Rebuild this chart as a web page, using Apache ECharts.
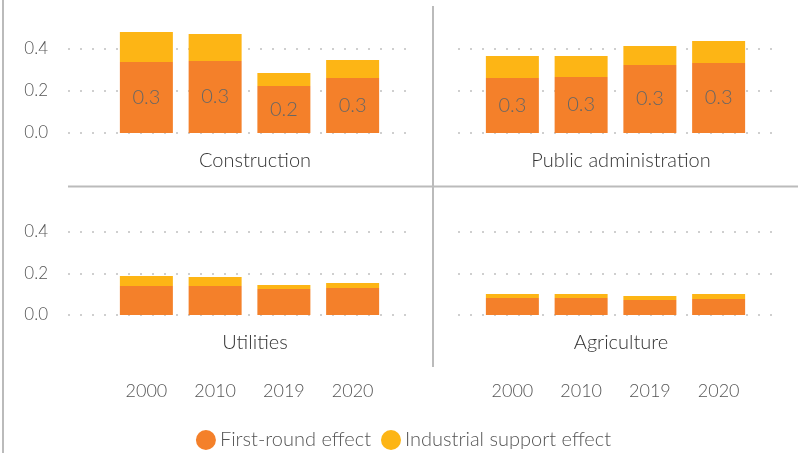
<!DOCTYPE html>
<html>
<head>
<meta charset="utf-8">
<script src="https://cdn.jsdelivr.net/npm/echarts@6/dist/echarts.min.js"></script>
<style>
  html, body { margin: 0; padding: 0; background: #fff; }
  #chart { width: 807px; height: 453px; }
</style>
</head>
<body>
<div id="chart"></div>
<script>
var years = ["2000", "2010", "2019", "2020"];
var panels = ["Construction", "Public administration", "Utilities", "Agriculture"];
var yTicks = [0, 0.2, 0.4];

var firstRound = {
    "Construction": [0.338, 0.343, 0.224, 0.262],
    "Public administration": [0.262, 0.267, 0.324, 0.333],
    "Utilities": [0.140, 0.140, 0.125, 0.130],
    "Agriculture": [0.082, 0.082, 0.072, 0.077]
};
var industrialSupport = {
    "Construction": [0.143, 0.128, 0.062, 0.086],
    "Public administration": [0.105, 0.100, 0.090, 0.105],
    "Utilities": [0.048, 0.043, 0.020, 0.024],
    "Agriculture": [0.019, 0.019, 0.020, 0.024]
};

var ORANGE = "#F4802A";
var YELLOW = "#FDB515";
var FONT = "Lato";

// layout of the 2x2 panels
var layout = [
    { bgLeft: 68, bgWidth: 339, barLeft: 112, top: 49, height: 84, yLabels: true, xLabels: false, titleX: 250, titleY: 146, labels: true },
    { bgLeft: 458, bgWidth: 314, barLeft: 478, top: 49, height: 84, yLabels: false, xLabels: false, titleX: 616, titleY: 146, labels: true },
    { bgLeft: 68, bgWidth: 339, barLeft: 112, top: 232, height: 83, yLabels: true, xLabels: true, titleX: 250, titleY: 328, labels: false },
    { bgLeft: 458, bgWidth: 314, barLeft: 478, top: 232, height: 83, yLabels: false, xLabels: true, titleX: 616, titleY: 328, labels: false }
];

var grids = [], xAxes = [], yAxes = [], series = [], titles = [];

panels.forEach(function (name, i) {
    var p = layout[i];
    var bg = grids.length;
    grids.push({ left: p.bgLeft, width: p.bgWidth, top: p.top, height: p.height });
    xAxes.push({ gridIndex: bg, type: "value", show: false });
    yAxes.push({
        gridIndex: bg, type: "value", min: yTicks[0], max: yTicks[yTicks.length - 1], interval: 0.2,
        axisLine: { show: false }, axisTick: { show: false },
        axisLabel: {
            show: p.yLabels, margin: 20, color: "#555", fontSize: 17, fontFamily: FONT, fontWeight: 300,
            formatter: function (v) { return v.toFixed(1); }
        },
        splitLine: { show: true, lineStyle: { color: "#cfcfcf", width: 2, type: [2, 10] } }
    });

    var g = grids.length;
    grids.push({ left: p.barLeft, width: 275, top: p.top, height: p.height });
    xAxes.push({
        gridIndex: g, type: "category", data: years,
        axisLine: { show: false }, axisTick: { show: false },
        axisLabel: { show: p.xLabels, margin: 67, color: "#555", fontSize: 18, fontFamily: FONT, fontWeight: 300 }
    });
    yAxes.push({ gridIndex: g, type: "value", min: 0, max: 0.4, show: false, splitLine: { show: false } });

    series.push({
        name: "First-round effect", type: "bar", stack: "s" + i, xAxisIndex: g, yAxisIndex: g,
        barWidth: 53, clip: false, itemStyle: { color: ORANGE },
        label: {
            show: p.labels, position: "inside", color: "#666", fontSize: 20, fontFamily: FONT, fontWeight: 300,
            formatter: function (d) { return d.value.toFixed(1); }
        },
        data: firstRound[name]
    });
    series.push({
        name: "Industrial support effect", type: "bar", stack: "s" + i, xAxisIndex: g, yAxisIndex: g,
        barWidth: 53, clip: false, itemStyle: { color: YELLOW },
        data: industrialSupport[name]
    });

    titles.push({
        text: name, left: p.titleX, top: p.titleY, textAlign: "center",
        textStyle: { fontFamily: FONT, fontSize: 20, fontWeight: 300, color: "#333" }
    });
});

var chart = echarts.init(document.getElementById("chart"), null, { renderer: "canvas" });
chart.setOption({
    animation: false,
    title: titles,
    grid: grids,
    xAxis: xAxes,
    yAxis: yAxes,
    series: series,
    legend: {
        data: ["First-round effect", "Industrial support effect"],
        top: 425, left: "center",
        icon: "circle", itemWidth: 20, itemHeight: 20, itemGap: 10,
        textStyle: { fontFamily: FONT, fontSize: 20, fontWeight: 300, color: "#555", padding: [0, 0, 0, -1] }
    },
    graphic: [
        { type: "line", shape: { x1: 3, y1: 0, x2: 3, y2: 453 }, style: { stroke: "#bbb", lineWidth: 2 } },
        { type: "line", shape: { x1: 433, y1: 6, x2: 433, y2: 367 }, style: { stroke: "#bbb", lineWidth: 2 } },
        { type: "line", shape: { x1: 68, y1: 186.5, x2: 798, y2: 186.5 }, style: { stroke: "#bbb", lineWidth: 2 } }
    ]
});
</script>
</body>
</html>
